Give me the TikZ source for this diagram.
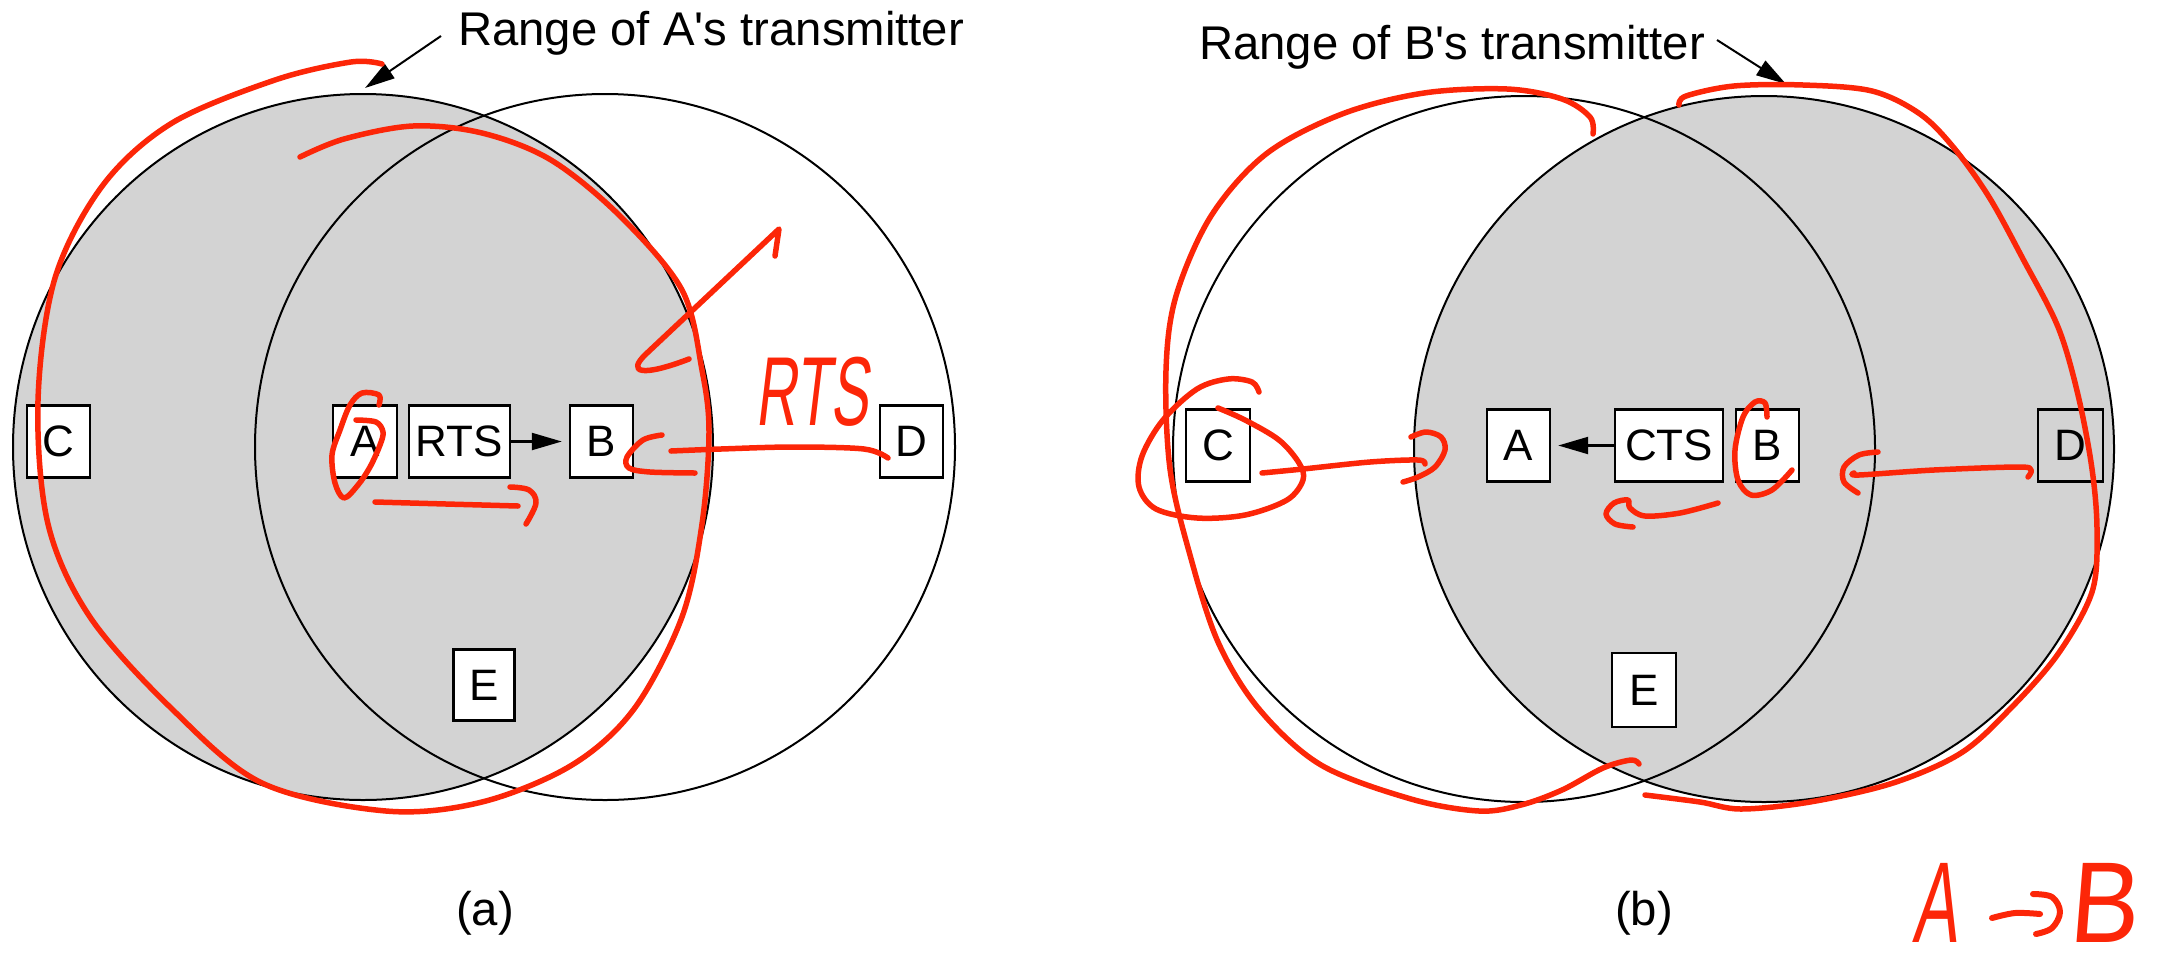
\documentclass[tikz,border=0pt]{standalone}
\usepackage{fontspec}
\setmainfont{Liberation Sans}
\newfontfamily\handfont{Liberation Sans}[FakeStretch=0.58, FakeSlant=0.12]
\newfontfamily\handwide{Liberation Sans}[FakeStretch=0.9, FakeSlant=0.08]
\usetikzlibrary{arrows.meta}
\definecolor{circgray}{RGB}{211,211,211}
\definecolor{pen}{RGB}{252,38,8}
\begin{document}
\begin{tikzpicture}[x=1pt,y=-1pt,
  box/.style={draw, line width=2.4pt, fill=white, minimum height=72pt, inner sep=0pt, font=\fontsize{44}{44}\selectfont},
  ring/.style={line width=2pt},
  arr/.style={line width=2.2pt, -{Triangle[length=30pt,width=17pt]}},
  ink/.style={draw=pen, line width=5.5pt, line cap=round, line join=round},
  title/.style={font=\fontsize{47.3}{47.3}\selectfont, inner sep=0pt},
  hand/.style={text=pen, inner sep=0pt}]
\useasboundingbox (0,0) rectangle (2159,967);

% ---------- panel (a) ----------
\fill[circgray] (363,447) ellipse [x radius=350pt, y radius=353pt];
\draw[ring] (363,447) ellipse [x radius=350pt, y radius=353pt];
\draw[ring] (605,447) ellipse [x radius=350pt, y radius=353pt];

\node[box, minimum width=63pt] (aC) at (58.5,441.5) {C};
\node[box, minimum width=64pt] (aA) at (365,441.5) {A};
\node[box, minimum width=101pt] (aRTS) at (459.5,441.5) {RTS};
\node[box, minimum width=63pt] (aB) at (601.5,441.5) {B};
\node[box, minimum width=63pt] (aD) at (911.5,441.5) {D};
\node[box, minimum width=61pt, minimum height=71pt] (aE) at (484,685) {E};
\draw[arr] (aRTS.east) -- ([xshift=-7pt]aB.west);

\node[title, anchor=base west] (aT) at (458,45) {Range of A\textquotesingle s transmitter};
\coordinate (aTail) at (441,36);
\coordinate (aTip) at (365,88);
\draw[arr, line width=2pt] (aTail) -- (aTip);
\node[title, anchor=base] (aL) at (485,925) {(a)};

% ---------- panel (b) ----------
\fill[circgray] (1764,449) ellipse [x radius=350pt, y radius=353pt];
\draw[ring] (1524,449) ellipse [x radius=351pt, y radius=353pt];
\draw[ring] (1764,449) ellipse [x radius=350pt, y radius=353pt];

\node[box, minimum width=64pt] (bC) at (1218,445.5) {C};
\node[box, minimum width=63pt] (bA) at (1518.5,445.5) {A};
\node[box, minimum width=108pt] (bCTS) at (1669,445.5) {CTS};
\node[box, minimum width=63pt] (bB) at (1767.5,445.5) {B};
\node[box, minimum width=65pt, fill=none] (bD) at (2070.5,445.5) {D};
\node[box, minimum width=64pt, minimum height=74pt] (bE) at (1644,690) {E};
\draw[arr] (bCTS.west) -- ([xshift=7pt]bA.east);

\node[title, anchor=base west] (bT) at (1199,59) {Range of B\textquotesingle s transmitter};
\coordinate (bTail) at (1717,40);
\coordinate (bTip) at (1786,84);
\draw[arr, line width=2pt] (bTail) -- (bTip);
\node[title, anchor=base] (bL) at (1644,925) {(b)};

% ---------- red annotations, panel (a) ----------
\draw[ink] plot[smooth, tension=0.55] coordinates {(382,64) (351,62) (275,80) (172,123) (103,185) (55,278) (38,401) (48,524) (90,617) (172,709) (262,783) (386,811) (482,802) (572,765) (634,709) (682,617) (702,524) (709,432) (702,370) (682,290) (620,216) (551,160) (482,133) (413,126) (344,139) (300,157)};
\draw[ink] (775,256) -- (779,229) -- (646,354) .. controls (626,373) and (642,377) .. (689,359);
\draw[ink] plot[smooth, tension=0.55] coordinates {(379,405) (379,395) (362,393) (350,405) (340,430) (332,455) (335,483) (344,498) (358,485) (370,467) (380,445) (383,432) (376,422) (356,420)};
\draw[ink] plot[smooth, tension=0.55] coordinates {(375,502) (446,504) (518,506)};
\draw[ink] plot[smooth, tension=0.6] coordinates {(510,487) (529,490) (536,503) (526,524)};
\draw[ink] plot[smooth, tension=0.55] coordinates {(662,435) (643,440) (627,457) (629,468) (650,472) (695,473)};
\draw[ink] plot[smooth, tension=0.55] coordinates {(671,451) (721,449) (793,447) (864,449) (888,458)};
\node[hand, font=\handfont\fontsize{98}{98}\selectfont] (rts) at (812,392) {RTS};

% ---------- red annotations, panel (b) ----------
\draw[ink] plot[smooth, tension=0.55] coordinates {(1593,134) (1590,117) (1562,99) (1507,89) (1424,93) (1342,114) (1266,154) (1211,216) (1176,296) (1166,370) (1170,469) (1190,555) (1218,642) (1259,709) (1321,765) (1411,799) (1479,811) (1521,805) (1562,790) (1603,768) (1631,760) (1639,764)};
\draw[ink] plot[smooth, tension=0.55] coordinates {(1679,105) (1686,96) (1734,86) (1803,85) (1872,91) (1920,114) (1954,148) (1989,197) (2023,259) (2058,327) (2078,395) (2092,469) (2097,531) (2092,592) (2058,654) (2010,709) (1961,753) (1893,783) (1810,802) (1741,809) (1700,802) (1645,795)};
\draw[ink] plot[smooth, tension=0.55] coordinates {(1259,392) (1252,382) (1228,379) (1197,389) (1163,420) (1142,456) (1139,487) (1156,509) (1197,518) (1245,515) (1287,500) (1303,480) (1299,463) (1279,440) (1245,420) (1218,408)};
\draw[ink] plot[smooth, tension=0.55] coordinates {(1262,473) (1303,469) (1370,462) (1418,460) (1425,464)};
\draw[ink] plot[smooth, tension=0.55] coordinates {(1411,437) (1426,432) (1441,437) (1445,450) (1435,467) (1418,477) (1403,482)};
\draw[ink] plot[smooth, tension=0.55] coordinates {(1767,417) (1765,403) (1755,402) (1743,417) (1735,450) (1738,480) (1751,495) (1772,490) (1792,470)};
\draw[ink] plot[smooth, tension=0.55] coordinates {(1718,503) (1680,513) (1645,516) (1630,508) (1628,500) (1614,503) (1606,514) (1615,524) (1633,527)};
\draw[ink] plot[smooth, tension=0.55] coordinates {(1878,452) (1859,455) (1844,467) (1844,482) (1858,493)};
\draw[ink] plot[smooth, tension=0.55] coordinates {(2028,477) (2031,470) (2018,467) (1934,470) (1859,475) (1854,473)};

\node[hand, font=\handfont\fontsize{115}{115}\selectfont, anchor=base west] (hA) at (1912,942) {A};
\draw[ink, line width=6pt] plot[smooth, tension=0.55] coordinates {(1992,918) (2015,913) (2040,914)};
\draw[ink, line width=6pt] plot[smooth, tension=0.6] coordinates {(2033,894) (2052,897) (2060,912) (2052,928) (2036,934)};
\node[hand, font=\handwide\fontsize{115}{115}\selectfont, anchor=base west] (hB) at (2068,942) {B};
\end{tikzpicture}
\end{document}
